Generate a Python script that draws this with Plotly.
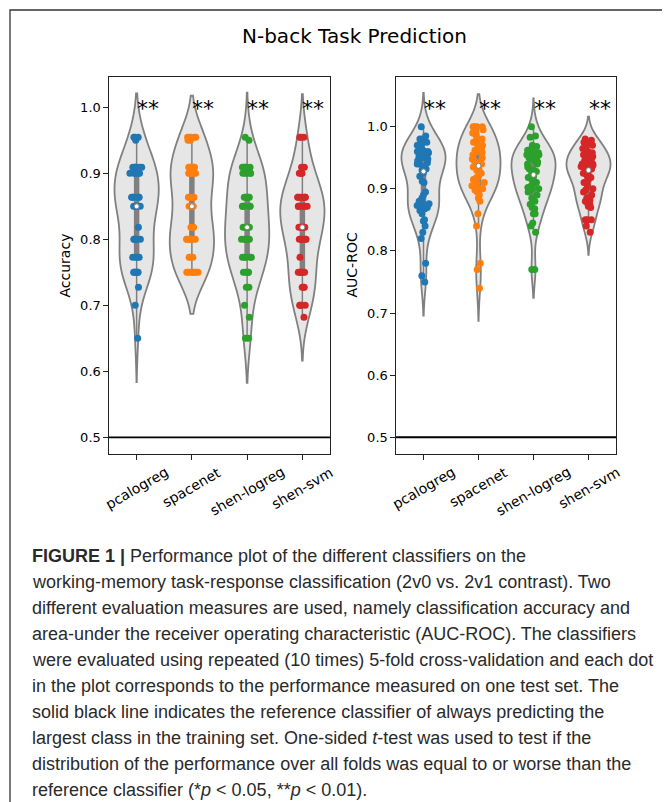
import numpy as np
import plotly.graph_objects as go

W, H = 670, 802
OFF = 8  # default page body margin

classifiers = ["pcalogreg", "spacenet", "shen-logreg", "shen-svm"]
colors = ["#1f77b4", "#ff7f0e", "#2ca02c", "#d62728"]

# Accuracy: discrete levels (test sets of 22 and 20 samples) and counts per classifier
acc_levels = [21/22, 19/20, 20/22, 18/20, 19/22, 17/20, 18/22, 16/20, 17/22, 15/20, 16/22, 14/20, 15/22, 13/20]
acc_counts_pcalogreg = [3, 1, 6, 6, 6, 7, 1, 6, 4, 7, 1, 1, 0, 1]
acc_counts_spacenet = [5, 2, 6, 6, 4, 4, 4, 8, 3, 8, 0, 0, 0, 0]
acc_counts_shen_logreg = [1, 1, 5, 5, 5, 5, 5, 7, 5, 5, 2, 1, 1, 2]
acc_counts_shen_svm = [3, 0, 2, 4, 7, 7, 6, 6, 1, 6, 3, 4, 1, 0]

# AUC-ROC values (50 folds per classifier)
auc_pcalogreg = [1.0, 0.985, 0.98, 0.98, 0.975, 0.97, 0.97, 0.965, 0.962, 0.96, 0.96, 0.958, 0.955,
                 0.955, 0.952, 0.95, 0.95, 0.948, 0.945, 0.942, 0.94, 0.94, 0.935, 0.932, 0.93,
                 0.926, 0.92, 0.912, 0.91, 0.895, 0.89, 0.885, 0.88, 0.878, 0.876, 0.875, 0.873,
                 0.87, 0.87, 0.868, 0.865, 0.86, 0.85, 0.848, 0.84, 0.83, 0.82, 0.78, 0.76, 0.75]
auc_spacenet = [1.0, 1.0, 1.0, 1.0, 0.995, 0.99, 0.99, 0.985, 0.98, 0.98, 0.975, 0.97, 0.97,
                0.965, 0.962, 0.96, 0.96, 0.958, 0.955, 0.95, 0.948, 0.945, 0.942, 0.94, 0.938,
                0.936, 0.935, 0.93, 0.93, 0.925, 0.92, 0.918, 0.915, 0.91, 0.91, 0.905, 0.905,
                0.90, 0.90, 0.90, 0.898, 0.895, 0.89, 0.885, 0.88, 0.86, 0.84, 0.78, 0.77, 0.74]
auc_shen_logreg = [1.0, 0.985, 0.983, 0.97, 0.968, 0.965, 0.962, 0.96, 0.96, 0.958, 0.955, 0.955,
                   0.952, 0.95, 0.95, 0.948, 0.945, 0.943, 0.94, 0.94, 0.935, 0.932, 0.93, 0.928,
                   0.925, 0.92, 0.918, 0.915, 0.912, 0.91, 0.91, 0.905, 0.902, 0.90, 0.90, 0.898,
                   0.895, 0.89, 0.885, 0.88, 0.875, 0.87, 0.868, 0.86, 0.86, 0.845, 0.84, 0.83,
                   0.77, 0.77]
auc_shen_svm = [0.98, 0.978, 0.975, 0.972, 0.97, 0.968, 0.965, 0.962, 0.96, 0.958, 0.955, 0.952,
                0.95, 0.948, 0.945, 0.943, 0.942, 0.94, 0.94, 0.938, 0.936, 0.935, 0.933, 0.932,
                0.931, 0.929, 0.925, 0.922, 0.92, 0.918, 0.915, 0.912, 0.91, 0.905, 0.90, 0.898,
                0.895, 0.89, 0.885, 0.882, 0.88, 0.878, 0.875, 0.872, 0.87, 0.85, 0.85, 0.85,
                0.84, 0.83]

significance = ["**", "**", "**", "**"]
reference_level = [0.5, 0.5]
y_ticks = [0.5, 0.6, 0.7, 0.8, 0.9, 1.0]

caption_lines = [
    "<b>FIGURE 1 |</b> Performance plot of the different classifiers on the",
    "working-memory task-response classification (2v0 vs. 2v1 contrast). Two",
    "different evaluation measures are used, namely classification accuracy and",
    "area-under the receiver operating characteristic (AUC-ROC). The classifiers",
    "were evaluated using repeated (10 times) 5-fold cross-validation and each dot",
    "in the plot corresponds to the performance measured on one test set. The",
    "solid black line indicates the reference classifier of always predicting the",
    "largest class in the training set. One-sided <i>t</i>-test was used to test if the",
    "distribution of the performance over all folds was equal to or worse than the",
    "reference classifier (*<i>p</i> &lt; 0.05, **<i>p</i> &lt; 0.01).",
]

acc_data = [np.repeat(acc_levels, c) for c in
            (acc_counts_pcalogreg, acc_counts_spacenet, acc_counts_shen_logreg, acc_counts_shen_svm)]
auc_data = [np.array(v) for v in (auc_pcalogreg, auc_spacenet, auc_shen_logreg, auc_shen_svm)]

FONT = "DejaVu Sans"
VFILL = "#e6e6e6"
VLINE = "#808080"


def px_x(p):
    return (p - OFF) / W


def px_y(p):
    return 1 - (p - OFF) / H


fig = go.Figure()

panels = [
    (acc_data, "x", "y", "acc"),
    (auc_data, "x2", "y2", "auc"),
]

for data, xa, ya, grp in panels:
    for cls, col, vals in zip(classifiers, colors, data):
        n = len(vals)
        bw = np.std(vals, ddof=1) * n ** (-0.2)  # Scott's rule
        fig.add_trace(go.Violin(
            x=[cls] * n, y=vals, xaxis=xa, yaxis=ya,
            width=0.8, scalegroup=grp, scalemode="width", spanmode="soft",
            bandwidth=bw, fillcolor=VFILL, line=dict(color=VLINE, width=1.8),
            box=dict(visible=True, width=0.09, fillcolor=VLINE,
                     line=dict(color=VLINE, width=1.5)),
            meanline=dict(visible=False),
            points="all", pointpos=0, jitter=0.36,
            marker=dict(color=col, size=7, line=dict(width=0), opacity=1),
            hoverinfo="skip", showlegend=False,
        ))
    for cls, vals in zip(classifiers, data):
        fig.add_trace(go.Scatter(
            x=[cls], y=[np.median(vals)], xaxis=xa, yaxis=ya, mode="markers",
            marker=dict(color="white", size=5, line=dict(color=VLINE, width=1)),
            hoverinfo="skip", showlegend=False,
        ))

axis_common = dict(showline=True, mirror=True, linecolor="#222222", linewidth=1.2,
                   ticks="outside", ticklen=4.5, tickwidth=1.1, tickcolor="#222222",
                   showgrid=False, zeroline=False, fixedrange=True)

y_top, y_bot = 77, 454
fig.update_layout(
    width=W, height=H,
    margin=dict(l=0, r=0, t=0, b=0),
    paper_bgcolor="white", plot_bgcolor="white",
    violinmode="overlay",
    xaxis=dict(domain=[px_x(109), px_x(330)], type="category", categoryorder="array",
               categoryarray=classifiers, range=[-0.5, 3.5], showticklabels=False,
               anchor="y", **axis_common),
    yaxis=dict(domain=[px_y(y_bot), px_y(y_top)], range=[0.4747, 1.046], tickvals=y_ticks,
               tickformat=".1f", tickfont=dict(family=FONT, size=13, color="black"),
               anchor="x", **axis_common),
    xaxis2=dict(domain=[px_x(396), px_x(616)], type="category", categoryorder="array",
                categoryarray=classifiers, range=[-0.5, 3.5], showticklabels=False,
                anchor="y2", **axis_common),
    yaxis2=dict(domain=[px_y(y_bot), px_y(y_top)], range=[0.473, 1.08], tickvals=y_ticks,
                tickformat=".1f", tickfont=dict(family=FONT, size=13, color="black"),
                anchor="x2", **axis_common),
)

# reference classifier lines
for xa, ya in (("x", "y"), ("x2", "y2")):
    fig.add_shape(type="line", xref=f"{xa} domain", yref=ya, x0=0, x1=1,
                  y0=reference_level[0], y1=reference_level[1],
                  line=dict(color="black", width=1.8))

# outer frame
fig.add_shape(type="rect", xref="paper", yref="paper", x0=px_x(10), x1=1.1,
              y0=-0.1, y1=px_y(10), line=dict(color="#333333", width=1.3))

ann = []
# title
ann.append(dict(text="N-back Task Prediction", x=px_x(354), y=px_y(36), xref="paper", yref="paper",
                showarrow=False, xanchor="center", yanchor="middle",
                font=dict(family=FONT, size=20, color="black")))
# axis titles
ann.append(dict(text="Accuracy", x=px_x(64), y=px_y(265.5), xref="paper", yref="paper",
                showarrow=False, textangle=-90, xanchor="center", yanchor="middle",
                font=dict(family=FONT, size=14, color="black")))
ann.append(dict(text="AUC-ROC", x=px_x(351), y=px_y(265.5), xref="paper", yref="paper",
                showarrow=False, textangle=-90, xanchor="center", yanchor="middle",
                font=dict(family=FONT, size=14, color="black")))
# category labels + significance stars
for xa in ("x", "x2"):
    ya = "y" if xa == "x" else "y2"
    for cls, sig in zip(classifiers, significance):
        ann.append(dict(text=cls, x=cls, y=0, xref=xa, yref=f"{ya} domain", showarrow=False,
                        textangle=-30, xanchor="center", yanchor="top", yshift=-7,
                        font=dict(family=FONT, size=14, color="black")))
        ann.append(dict(text=sig, x=cls, y=(y_bot - 108) / (y_bot - y_top), xref=xa,
                        yref=f"{ya} domain", showarrow=False, xanchor="left", yanchor="middle",
                        xshift=-2,
                        font=dict(family=FONT, size=22, color="black")))
# caption
caption_y = [556, 582, 608, 634, 660, 686, 712, 738, 764, 790]
for line, yy in zip(caption_lines, caption_y):
    ann.append(dict(text=line, x=px_x(30), y=px_y(yy), xref="paper", yref="paper",
                    showarrow=False, xanchor="left", yanchor="middle",
                    font=dict(family="Liberation Sans", size=18, color="#2a2a2a")))

fig.update_layout(annotations=ann)
fig.write_html("out.html")
